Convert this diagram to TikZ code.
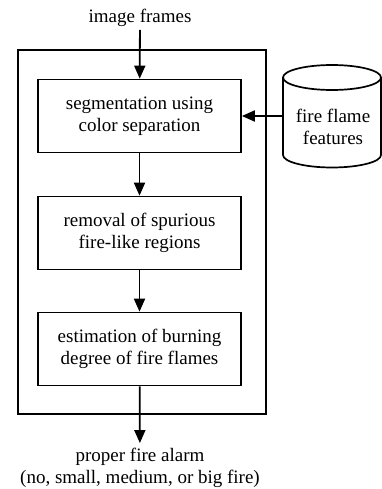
\documentclass[tikz,border=0pt]{standalone}
\usepackage{fontspec}
\setmainfont{Liberation Serif}
\usetikzlibrary{arrows.meta}
\begin{document}
\begin{tikzpicture}[x=1pt,y=-1pt,
  font=\fontsize{19}{22}\selectfont,
  stage/.style={draw,line width=1.7pt,minimum width=203pt,minimum height=73pt,align=center,inner sep=0pt},
  frame/.style={draw,line width=2.4pt,minimum width=248pt,minimum height=364pt},
  flow/.style={line width=1.8pt,-{Triangle[width=11pt,length=13pt]}},
  lbl/.style={align=center,inner sep=0pt}]
  \useasboundingbox (0,0) rectangle (382,489);
  \node[frame] (sys) at (142,232) {};
  \node[lbl] (in) at (140,18) {image frames};
  \node[stage] (seg) at (139.5,116) {segmentation using\\color separation};
  \node[stage] (rem) at (139.5,233) {removal of spurious\\fire-like regions};
  \node[stage] (est) at (139.5,349) {estimation of burning\\degree of fire flames};
  \node[lbl] (alarm) at (140,468) {proper fire alarm\\(no, small, medium, or big fire)};
  \draw[line width=1.7pt] (332,77.5) ellipse[x radius=49,y radius=12.5];
  \draw[line width=1.7pt] (283,77.5) -- (283,155)
    arc[start angle=180,end angle=0,x radius=49,y radius=12.5] -- (381,77.5);
  \node[lbl] (db) at (333,127) {fire flame\\features};
  \coordinate (dbin) at (283,116);
  \draw[flow,shorten <=3pt] (in) -- (seg);
  \draw[flow] (seg) -- (rem);
  \draw[flow] (rem) -- (est);
  \draw[flow,shorten >=5pt] (est) -- (alarm);
  \draw[flow] (dbin) -- (seg);
\end{tikzpicture}
\end{document}
